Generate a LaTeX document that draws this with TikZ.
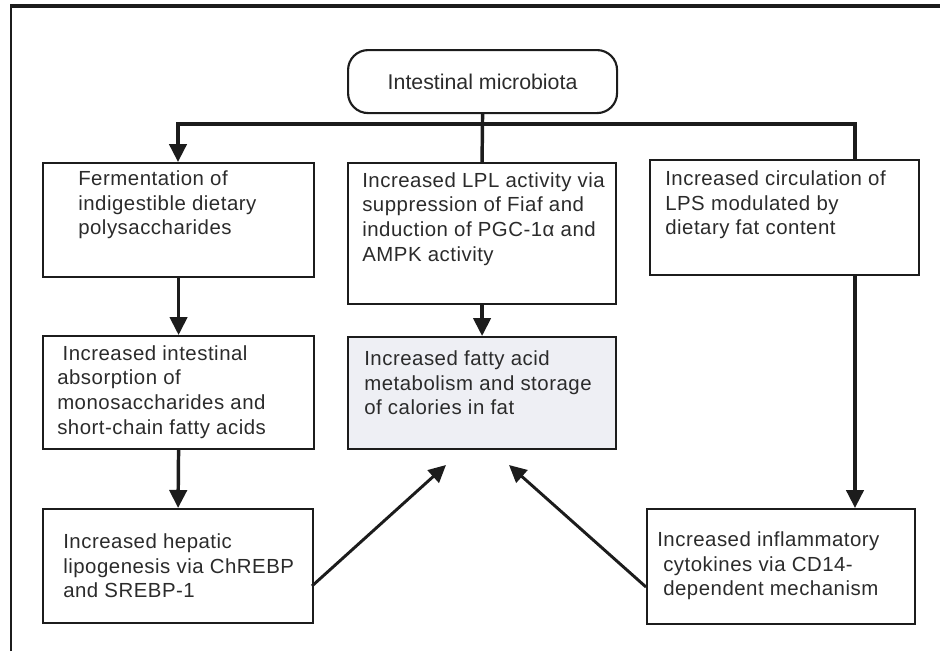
\documentclass[tikz,border=0pt]{standalone}
\usepackage{fontspec}
\setmainfont{Liberation Sans}
\newfontfamily\widefont[LetterSpace=2.5]{Liberation Sans}
\usetikzlibrary{arrows.meta}
\definecolor{linec}{HTML}{1C1C1C}
\definecolor{textc}{HTML}{2B2B2B}
\definecolor{fillc}{HTML}{EEEFF4}
\begin{document}
\begin{tikzpicture}[x=0.75pt,y=-0.75pt,
  box/.style={draw=linec, line width=1.6pt, rectangle, inner sep=0pt, anchor=north west},
  txt/.style={align=left, inner sep=0pt, anchor=west, font=\widefont\fontsize{15.3}{18.5}\selectfont, text=textc},
  conn/.style={draw=linec, line width=2.6pt},
  arr/.style={conn, -{Triangle[length=13.5pt, width=13pt]}},
  darr/.style={draw=linec, line width=2.2pt, -{Triangle[length=13pt, width=12.5pt]}}]
\useasboundingbox (0,0) rectangle (940,651);
% frame
\draw[linec, line width=1.6pt] (11,651) -- (11,6);
\draw[linec, line width=2.4pt] (10,6) -- (940,6);
% boxes
\node[draw=linec, line width=1.6pt, rounded corners=15pt, minimum width=201.75pt, minimum height=47.25pt, inner sep=0pt, anchor=north west,
      font=\fontsize{16}{19}\selectfont, text=textc] (top) at (347,49) {Intestinal microbiota};
\node[box, minimum width=203.25pt, minimum height=85.5pt] (B1) at (42,162) {};
\node[box, minimum width=201pt, minimum height=105.75pt] (B2) at (347,162) {};
\node[box, minimum width=201.75pt, minimum height=86.25pt] (B3) at (649,159) {};
\node[box, minimum width=203.25pt, minimum height=84.75pt] (B4) at (42,335) {};
\node[box, fill=fillc, minimum width=201pt, minimum height=84pt] (B5) at (347,336) {};
\node[box, minimum width=202.5pt, minimum height=85.5pt] (B6) at (42,508) {};
\node[box, minimum width=201pt, minimum height=86.25pt] (B7) at (646,508) {};
% texts
\node[txt] (T1) at (78,205) {Fermentation of\\indigestible dietary\\polysaccharides};
\node[txt] (T2) at (362,219) {Increased LPL activity via\\suppression of Fiaf and\\induction of PGC-1α and\\AMPK activity};
\node[txt] (T3) at (665,205) {Increased circulation of\\LPS modulated by\\dietary fat content};
\node[txt] (T4) at (57,392) {\hspace{4pt}Increased intestinal\\absorption of\\monosaccharides and\\short-chain fatty acids};
\node[txt] (T5) at (364,383) {Increased fatty acid\\metabolism and storage\\of calories in fat};
\node[txt] (T6) at (63,566) {Increased hepatic\\lipogenesis via ChREBP\\and SREBP-1};
\node[txt] (T7) at (657,566) {Increased inflammatory\\\hspace{4.5pt}cytokines via CD14-\\\hspace{4.5pt}dependent mechanism};
% connectors
\coordinate (hl) at (178,124);
\coordinate (hr) at (855,124);
\coordinate (vr) at (855,300);
\draw[conn] (top.south) -- (B2.north);
\draw[arr] (hr |- B3.north) -- (hr) -- (hl) -- (hl |- B1.north);
\draw[arr] (B1.south) -- (B4.north);
\draw[arr] (B2.south) -- (B5.north);
\draw[arr] (B4.south) -- (B6.north);
\draw[arr] (vr |- B3.south) -- (vr |- B7.north);
\coordinate (s1) at (312,586);
\coordinate (t1) at (446,465);
\coordinate (s2) at (646,587);
\coordinate (t2) at (509,465);
\draw[darr] (s1) -- (t1);
\draw[darr] (s2) -- (t2);
\end{tikzpicture}
\end{document}
